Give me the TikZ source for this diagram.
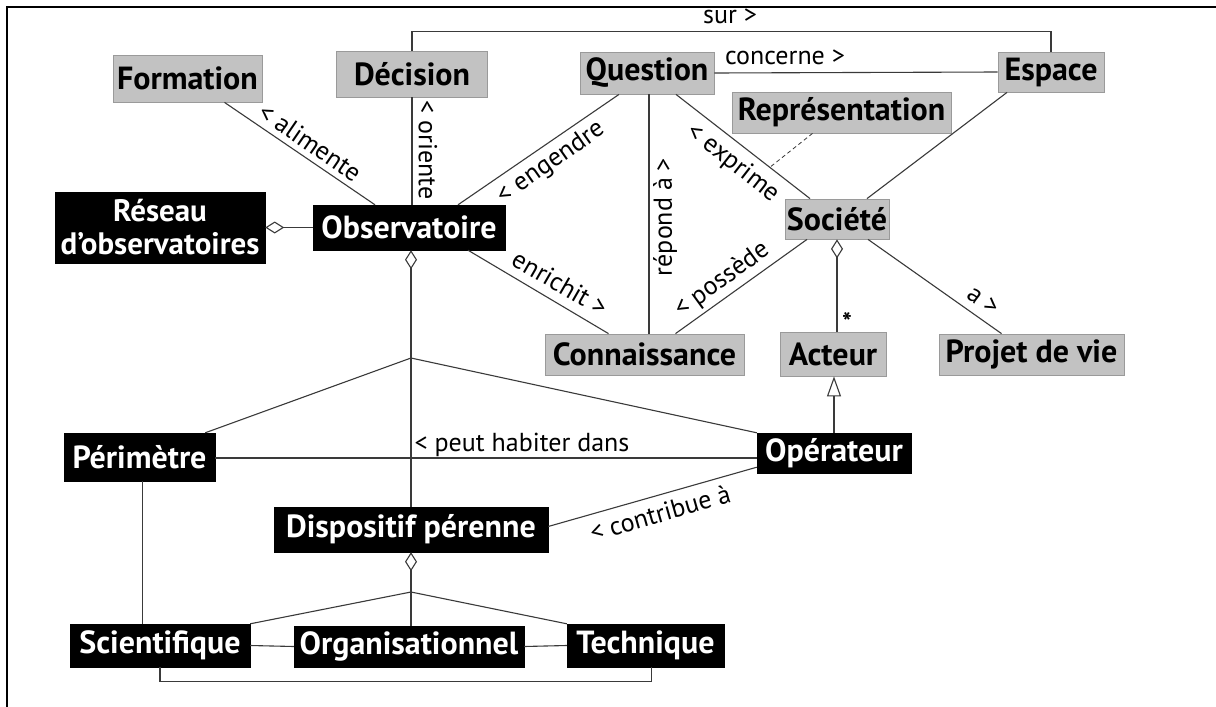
\documentclass[tikz,border=0pt]{standalone}
\usepackage{fontspec}
\setmainfont{PT Sans}
\usetikzlibrary{arrows.meta,calc}
\definecolor{boxgray}{HTML}{C2C2C2}
\definecolor{boxedge}{HTML}{9A9A9A}
\definecolor{linec}{HTML}{3A3A3A}
\begin{document}
\begin{tikzpicture}[x=1pt,y=-1pt,
  gbox/.style={fill=boxgray,draw=boxedge,line width=0.8pt,inner sep=0pt,font=\fontsize{32}{34}\selectfont\bfseries,text=black},
  kbox/.style={fill=black,draw=black,inner sep=0pt,font=\fontsize{32}{34}\selectfont\bfseries,text=white,align=center},
  lab/.style={font=\fontsize{26}{28}\selectfont,text=black,inner sep=0pt},
  conn/.style={draw=linec,line width=1.1pt},
  agg/.style={conn,{Diamond[open,length=19pt,width=12pt,line width=1.1pt]}-},
  gen/.style={conn,-{Triangle[open,length=20pt,width=14pt,line width=1.1pt]}}
]
\useasboundingbox (0,0) rectangle (1216,707);
\fill[white] (0,0) rectangle (1216,707);
\draw[line width=1.8pt,black] (7,707) -- (7,7) -- (1216,7);

% nodes
\node[gbox,minimum width=149pt,minimum height=47pt] (formation) at (187.5,78.5) {Formation};
\node[gbox,minimum width=151pt,minimum height=46pt] (decision) at (412,74) {Décision};
\node[gbox,minimum width=134pt,minimum height=42pt] (question) at (647,73) {Question};
\node[gbox,minimum width=106pt,minimum height=40pt] (espace) at (1051,72) {Espace};
\node[gbox,minimum width=219pt,minimum height=41pt] (rep) at (841.5,112.5) {Représentation};
\node[gbox,minimum width=104pt,minimum height=40pt] (societe) at (837,219) {Société};
\node[gbox,minimum width=199pt,minimum height=41pt] (conn) at (644.5,354.5) {Connaissance};
\node[gbox,minimum width=106pt,minimum height=44pt] (acteur) at (833,354) {Acteur};
\node[gbox,minimum width=185pt,minimum height=41pt] (projet) at (1031.5,354.5) {Projet de vie};
\node[kbox,minimum width=210pt,minimum height=71pt,font=\fontsize{31}{33}\selectfont\bfseries] (reseau) at (160,227.5) {Réseau\\d'observatoires};
\node[kbox,minimum width=192pt,minimum height=45pt] (obs) at (409,227.5) {Observatoire};
\node[kbox,minimum width=151pt,minimum height=48pt] (perim) at (139.5,457) {Périmètre};
\node[kbox,minimum width=154pt,minimum height=40pt] (oper) at (834,453) {Opérateur};
\node[kbox,minimum width=274pt,minimum height=45pt] (disp) at (411,529.5) {Dispositif pérenne};
\node[kbox,minimum width=180pt,minimum height=43pt] (scient) at (160,645.5) {Scientifique};
\node[kbox,minimum width=230pt,minimum height=41pt] (orga) at (409,646.5) {Organisationnel};
\node[kbox,minimum width=157pt,minimum height=43pt] (tech) at (645.5,645.5) {Technique};

\coordinate (j1) at (411,358);
\coordinate (j2) at (411,592);

% connectors
\draw[conn] (decision.north) -- ++(0,-19) -| (espace.north);
\draw[conn] (question.east) -- (espace.west);
\draw[conn] ($(obs.north)+(-34,0)$) -- ($(formation.south)+(37,0)$);
\draw[conn] (decision.south) -- (decision.south |- obs.north);
\draw[conn] ($(obs.north)+(49,0)$) -- ($(question.south)+(-28,0)$);
\draw[conn] ($(obs.south)+(59,0)$) -- ($(conn.north)+(-36,0)$);
\draw[conn] ($(question.south)+(2,0)$) -- ($(question.south |- conn.north)+(2,0)$);
\draw[conn] ($(question.south)+(29,0)$) -- coordinate[pos=0.7] (ex) ($(societe.north)+(-27,0)$);
\draw[conn,dashed,dash pattern=on 4pt off 3pt,line width=0.8pt] ($(rep.south)+(-29,0)$) -- (ex);
\draw[conn] ($(espace.south)+(-44,0)$) -- ($(societe.north)+(30,0)$);
\draw[conn] ($(societe.south)+(-30,0)$) -- ($(conn.north)+(31,0)$);
\draw[conn] ($(societe.south)+(31,0)$) -- ($(projet.north)+(-30,0)$);
\draw[agg] (societe.south) -- (societe.south |- acteur.north);
\draw[gen] (oper.north) -- (oper.north |- acteur.south);
\draw[agg] (reseau.east) -- (obs.west);
\draw[agg] (obs.south -| j1) -- (j1);
\draw[conn] (j1) -- (disp.north -| j1);
\draw[conn] (j1) -- ($(perim.north east)+(-10,0)$);
\draw[conn] (j1) -- (oper.north west);
\draw[conn] ($(perim.east)+(0,1)$) -- ($(oper.west |- perim.east)+(0,1)$);
\draw[conn] ($(disp.east)+(0,-3)$) -- ($(oper.south west)+(0,-6)$);
\draw[agg] (disp.south -| j2) -- (j2);
\draw[conn] (j2) -- (scient.north east);
\draw[conn] (j2) -- (orga.north -| j2);
\draw[conn] (j2) -- (tech.north west);
\draw[conn] (scient.east) -- (orga.west);
\draw[conn] (orga.east) -- (tech.west);
\draw[conn] ($(perim.south)+(3,0)$) -- ($(perim.south |- scient.north)+(3,0)$);
\draw[conn] (scient.south) -- ++(0,14) -| ($(tech.south)+(6,0)$);

% labels
\node[lab] (lsur) at (730,16) {sur >};
\node[lab] (lconc) at (785,57) {concerne >};
\node[lab,rotate=-34.5] (lalim) at (310,142) {< alimente};
\node[lab,rotate=-90] (lori) at (428,150) {< oriente};
\node[lab,rotate=35] (leng) at (551,163) {< engendre};
\node[lab,rotate=-30] (lenr) at (560,283) {enrichit >};
\node[lab,rotate=90] (lrep) at (665,217) {répond à >};
\node[lab,rotate=-38] (lexp) at (733,163) {< exprime};
\node[lab,rotate=36] (lposs) at (722,280) {< possède};
\node[lab,rotate=-36] (la) at (983,301) {a >};
\node[lab,font=\fontsize{26}{28}\selectfont\bfseries] (lstar) at (847,322) {*};
\node[lab] (lhab) at (522,445) {< peut habiter dans};
\node[lab,rotate=16] (lcont) at (660,513) {< contribue à};
\end{tikzpicture}
\end{document}
